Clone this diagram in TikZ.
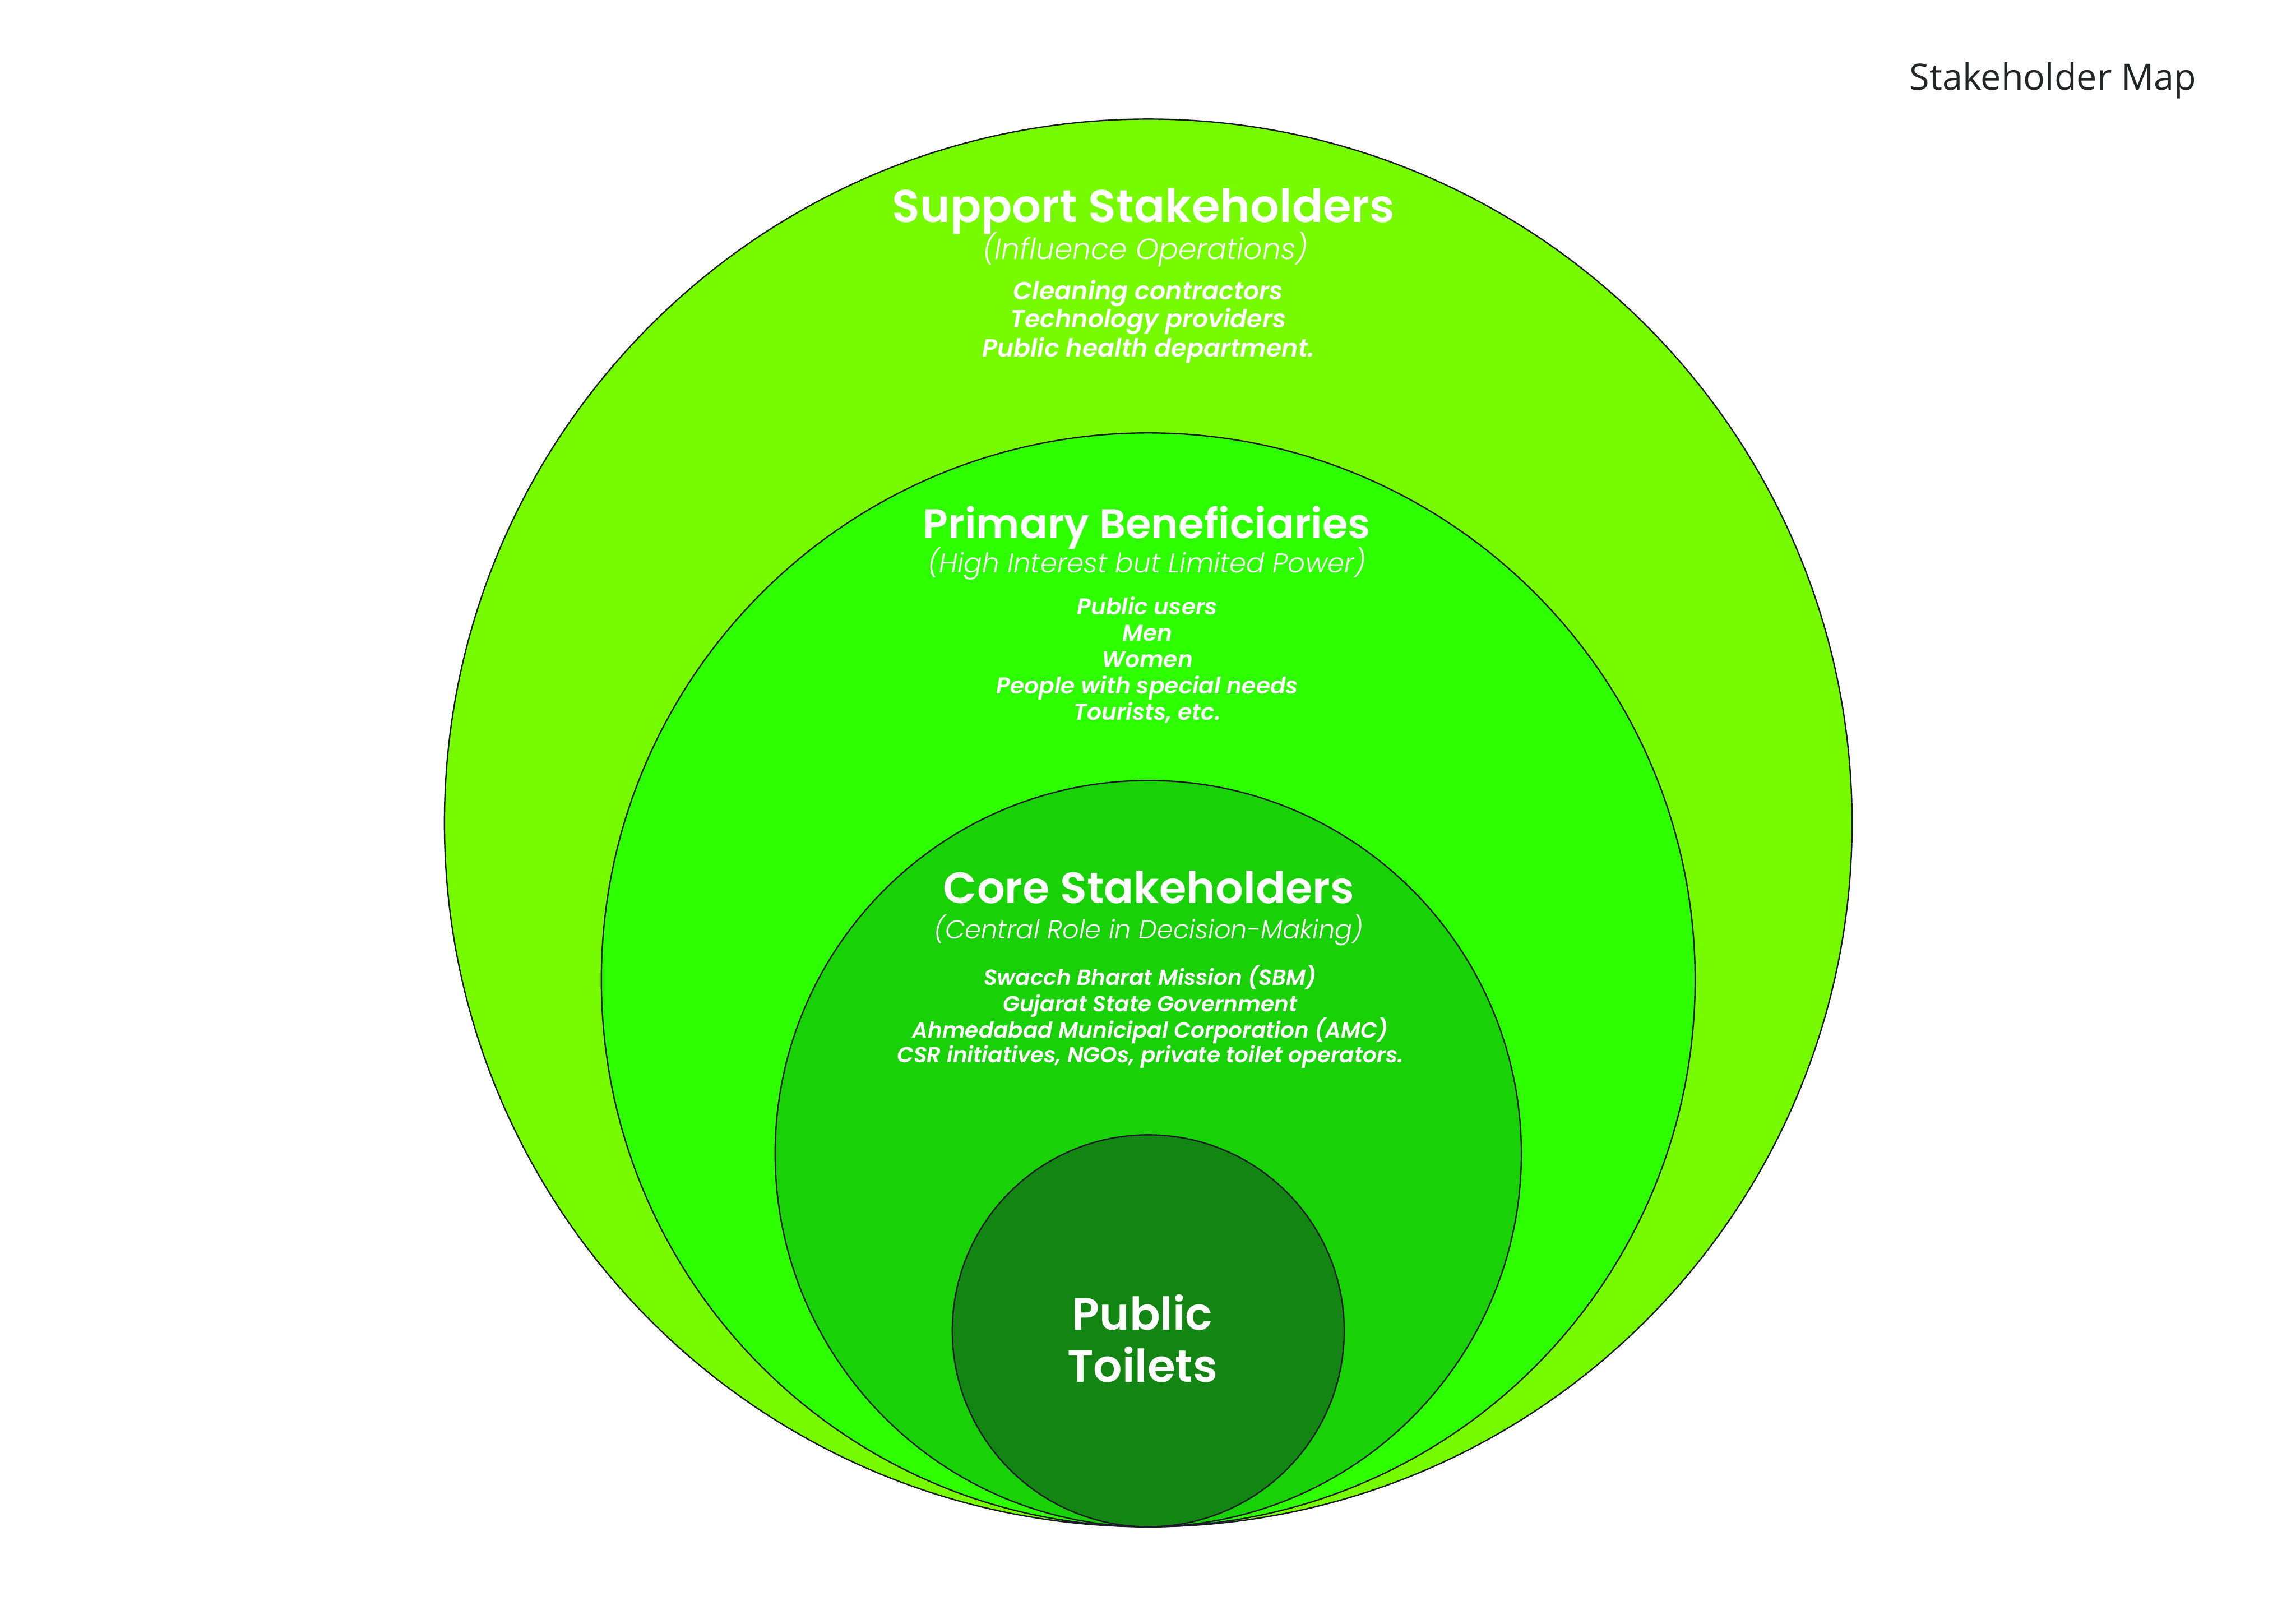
\documentclass[tikz,border=0pt]{standalone}
\usepackage{fontspec}
\setmainfont{Poppins}[BoldFont={* SemiBold},ItalicFont={* Light Italic},BoldItalicFont={* SemiBold Italic}]
\newfontfamily\titlefont{Open Sans}
\definecolor{ringA}{RGB}{118,251,0}
\definecolor{ringB}{RGB}{46,255,0}
\definecolor{ringC}{RGB}{25,209,7}
\definecolor{ringD}{RGB}{19,133,19}
\definecolor{edge}{RGB}{26,26,40}
\definecolor{titlegray}{RGB}{34,36,38}
\tikzset{
  ring/.style={circle,draw=edge,line width=0.8pt,inner sep=0pt},
  txt/.style={text=white,inner sep=0pt,text height=0.7em,text depth=0pt},
  headtxt/.style={txt,font=\fontsize{#1}{30}\selectfont\bfseries},
  subtxt/.style={txt,font=\fontsize{#1}{18}\selectfont\itshape},
  bodytxt/.style={txt,font=\fontsize{#1}{15}\selectfont\bfseries\itshape},
}
\begin{document}
\begin{tikzpicture}
\useasboundingbox[fill=white] (0,0) rectangle (47.63,-33.68);
\node[text=titlegray,font=\titlefont\fontsize{21.4}{24}\selectfont,anchor=east,inner sep=0pt] (title) at (45.57,-1.67) {Stakeholder Map};
\node[ring,fill=ringA,minimum size=29.2cm] (outer) at (23.82,-17.07) {};
\node[ring,fill=ringB,minimum size=22.69cm] (primary) at (23.82,-20.325) {};
\node[ring,fill=ringC,minimum size=15.48cm] (core) at (23.82,-23.93) {};
\node[ring,fill=ringD,minimum size=8.13cm] (inner) at (23.82,-27.605) {};
% Support
\node[headtxt=27] (sh) at (23.72,-4.49) {Support Stakeholders};
\node[subtxt=17.2] (ss) at (23.76,-5.25) {(Influence Operations)};
\node[bodytxt=14.7] (s1) at (23.82,-6.09) {Cleaning contractors};
\node[bodytxt=14.7] (s2) at (23.82,-6.67) {Technology providers};
\node[bodytxt=14.7] (s3) at (23.82,-7.28) {Public health department.};
% Primary
\node[headtxt=24.4] (ph) at (23.79,-11.05) {Primary Beneficiaries};
\node[subtxt=16] (ps) at (23.79,-11.75) {(High Interest but Limited Power)};
\node[bodytxt=13.5] (p1) at (23.80,-12.63) {Public users};
\node[bodytxt=13.5] (p2) at (23.80,-13.17) {Men};
\node[bodytxt=13.5] (p3) at (23.80,-13.72) {Women};
\node[bodytxt=13.5] (p4) at (23.80,-14.27) {People with special needs};
\node[bodytxt=13.5] (p5) at (23.80,-14.81) {Tourists, etc.};
% Core
\node[headtxt=25.9] (ch) at (23.83,-18.62) {Core Stakeholders};
\node[subtxt=15.3] (cs) at (23.83,-19.35) {(Central Role in Decision-Making)};
\node[bodytxt=12.9] (c1) at (23.86,-20.31) {Swacch Bharat Mission (SBM)};
\node[bodytxt=12.9] (c2) at (23.86,-20.86) {Gujarat State Government};
\node[bodytxt=12.9] (c3) at (23.86,-21.41) {Ahmedabad Municipal Corporation (AMC)};
\node[bodytxt=12.9] (c4) at (23.86,-21.92) {CSR initiatives, NGOs, private toilet operators.};
% Centre
\node[headtxt=26.7] (t1) at (23.70,-27.46) {Public};
\node[headtxt=26.7] (t2) at (23.70,-28.55) {Toilets};
\end{tikzpicture}
\end{document}
